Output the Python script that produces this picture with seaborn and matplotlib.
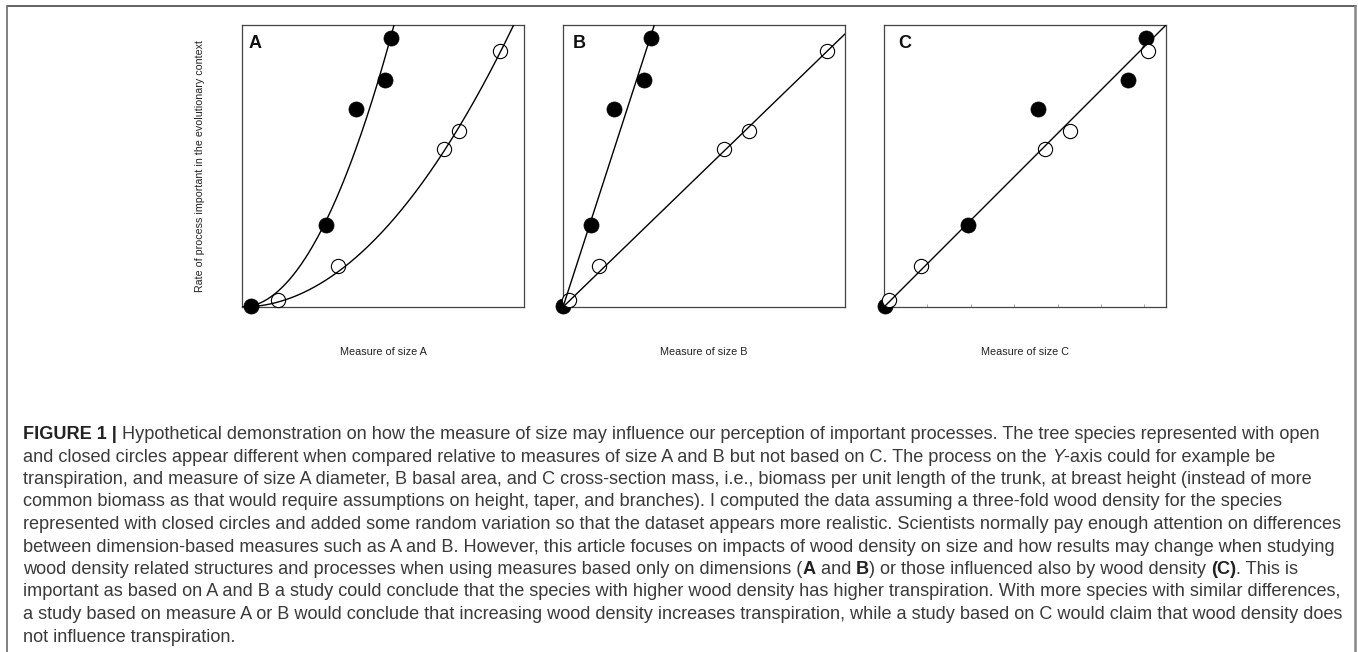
import numpy as np
import pandas as pd
import matplotlib
matplotlib.use("Agg")
import matplotlib.pyplot as plt
from matplotlib.lines import Line2D
from matplotlib import font_manager
import seaborn as sns

# process rate of the trees (same trees in all three panels)
rate_closed = [0.003, 0.290, 0.702, 0.806, 0.955]
rate_open = [0.025, 0.146, 0.560, 0.624, 0.908]

# measure of size A (diameter)
size_a_closed = [0.031, 0.297, 0.403, 0.508, 0.528]
size_a_open = [0.128, 0.339, 0.716, 0.771, 0.916]
# measure of size B (basal area)
size_b_closed = [0.001, 0.098, 0.181, 0.287, 0.311]
size_b_open = [0.022, 0.129, 0.572, 0.658, 0.935]
# measure of size C (cross-section mass)
size_c_closed = [0.03, 1.93, 3.54, 5.62, 6.05]
size_c_open = [0.12, 0.85, 3.72, 4.29, 6.09]

panel_letters = ["A", "B", "C"]
x_labels = ["Measure of size A", "Measure of size B", "Measure of size C"]
y_label = "Rate of process important in the evolutionary context"
c_ticks = [1, 2, 3, 4, 5, 6]

caption = [
    [("FIGURE 1 |", "b"), (" Hypothetical demonstration on how the measure of size may influence our "
                           "perception of important processes. The tree species represented with open", "n")],
    [("and closed circles appear different when compared relative to measures of size A and B but not "
      "based on C. The process on the ", "n"), ("Y", "i"), ("-axis could for example be", "n")],
    [("transpiration, and measure of size A diameter, B basal area, and C cross-section mass, i.e., biomass "
      "per unit length of the trunk, at breast height (instead of more", "n")],
    [("common biomass as that would require assumptions on height, taper, and branches). I computed the "
      "data assuming a three-fold wood density for the species", "n")],
    [("represented with closed circles and added some random variation so that the dataset appears more "
      "realistic. Scientists normally pay enough attention on differences", "n")],
    [("between dimension-based measures such as A and B. However, this article focuses on impacts of wood "
      "density on size and how results may change when studying", "n")],
    [("wood density related structures and processes when using measures based only on dimensions (", "n"),
     ("A", "b"), (" and ", "n"), ("B", "b"), (") or those influenced also by wood density ", "n"),
     ("(C)", "b"), (". This is", "n")],
    [("important as based on A and B a study could conclude that the species with higher wood density has "
      "higher transpiration. With more species with similar differences,", "n")],
    [("a study based on measure A or B would conclude that increasing wood density increases transpiration, "
      "while a study based on C would claim that wood density does", "n")],
    [("not influence transpiration.", "n")],
]


def pick_font(names):
    for name in names:
        try:
            font_manager.findfont(name, fallback_to_default=False)
            return name
        except Exception:
            continue
    return "DejaVu Sans"


def fit_origin(x, y, power):
    x = np.asarray(x, float)
    y = np.asarray(y, float)
    return np.sum(x ** power * y) / np.sum(x ** (2 * power))


def main():
    sns.set_theme(style="white")
    font = pick_font(["Liberation Sans", "Arial", "Roboto"])
    plt.rcParams["font.family"] = [font, "DejaVu Sans"]

    W, H = 1358, 652
    fig = plt.figure(figsize=(W / 100, H / 100), dpi=100)
    fig.patch.set_facecolor("white")

    panels = [
        dict(xc=size_a_closed, xo=size_a_open, xmax=1.0, power=2, pooled=False),
        dict(xc=size_b_closed, xo=size_b_open, xmax=1.0, power=1, pooled=False),
        dict(xc=size_c_closed, xo=size_c_open, xmax=6.5, power=1, pooled=True),
    ]
    lefts = [242, 563, 884]
    letter_x = [0.022, 0.034, 0.051]
    top, size = 25, 282

    for i, p in enumerate(panels):
        ax = fig.add_axes([lefts[i] / W, 1 - (top + size) / H, size / W, size / H])
        ax.set_xlim(0, p["xmax"])
        ax.set_ylim(0, 1)

        # closed circles underneath, open (white filled) circles above, fitted lines on top
        sns.scatterplot(x=p["xc"], y=rate_closed, ax=ax, color="black", edgecolor="black",
                        linewidth=0.5, s=118, zorder=3, clip_on=False, legend=False)
        sns.scatterplot(x=p["xo"], y=rate_open, ax=ax, color="black", facecolor="white",
                        edgecolor="black", linewidth=0.8, s=105, zorder=4, clip_on=False, legend=False)

        xs = np.linspace(0, p["xmax"], 300)
        if p["pooled"]:
            fits = [fit_origin(p["xc"] + p["xo"], rate_closed + rate_open, p["power"])]
        else:
            fits = [fit_origin(p["xc"], rate_closed, p["power"]),
                    fit_origin(p["xo"], rate_open, p["power"])]
        for k in fits:
            curve = pd.DataFrame({"x": xs, "y": k * xs ** p["power"]})
            sns.lineplot(data=curve, x="x", y="y", ax=ax, color="black", lw=1.0,
                         estimator=None, sort=False, zorder=5)

        ax.set_xlabel("")
        ax.set_ylabel("")
        ax.set_yticks([])
        if i == 2:
            ax.set_xticks(c_ticks)
            ax.tick_params(axis="x", direction="in", length=2, width=0.6, color="#999999",
                           labelbottom=False, bottom=True)
        else:
            ax.set_xticks([])
        for sp in ax.spines.values():
            sp.set_color("#444444")
            sp.set_linewidth(0.9)
            sp.set_visible(True)

        ax.text(letter_x[i], 0.919, panel_letters[i], transform=ax.transAxes,
                fontsize=13, fontweight="bold", ha="left", va="baseline", color="#111111")
        fig.text((lefts[i] + size / 2) / W, 1 - 352 / H, x_labels[i], fontsize=7.8,
                 ha="center", va="center", color="#222222")

    fig.text(200 / W, 1 - (top + size / 2) / H, y_label, rotation=90, fontsize=7.7,
             ha="center", va="center", color="#222222")

    # frame around figure + caption
    for xs_, ys_, lw, col in [([7, 1356], [6, 6], 1.3, "#555555"),
                              ([7, 7], [6, H], 1.3, "#777777"),
                              ([1355, 1355], [6, H], 1.8, "#888888")]:
        fig.add_artist(Line2D([v / W for v in xs_], [1 - v / H for v in ys_], lw=lw,
                              color=col, transform=fig.transFigure))

    # caption with mixed styles
    renderer = fig.canvas.get_renderer()
    styles = {"n": dict(fontweight="normal", fontstyle="normal", color="#3a3a3a"),
              "b": dict(fontweight="bold", fontstyle="normal", color="#222222"),
              "i": dict(fontweight="normal", fontstyle="italic", color="#3a3a3a")}

    def frag_width(s, fs, st):
        t = fig.text(0, 0, "|" + s + "|", fontsize=fs, **styles[st])
        w1 = t.get_window_extent(renderer).width
        t.set_text("||")
        w2 = t.get_window_extent(renderer).width
        t.remove()
        return w1 - w2

    x0 = 23
    base = 12.0
    w_line1 = sum(frag_width(s, base, st) for s, st in caption[0])
    fs = base * 1305 / w_line1
    fs = min(max(fs, 10.0), 13.5)

    for j, line in enumerate(caption):
        x = x0
        yb = 439 + j * 22.5
        for s, st in line:
            fig.text(x / W, 1 - yb / H, s, fontsize=fs, ha="left", va="baseline", **styles[st])
            x += frag_width(s, fs, st)

    fig.savefig("out.png", dpi=100)
    plt.close(fig)


if __name__ == "__main__":
    main()
